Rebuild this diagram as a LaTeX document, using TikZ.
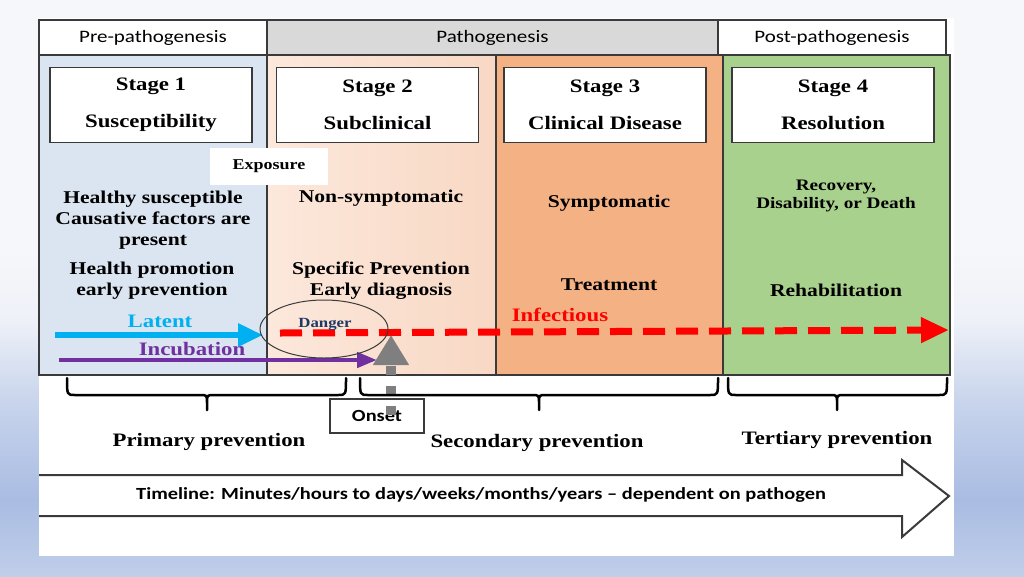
\documentclass[tikz,border=0pt]{standalone}
\usepackage{fontspec}
\setmainfont{Liberation Serif}[FakeStretch=1.2]
\newfontfamily\hdrfont{Carlito}[FakeStretch=1.2]
\usetikzlibrary{arrows.meta,shapes.geometric}
\definecolor{bgtop}{HTML}{F6F7FA}
\definecolor{bgC}{HTML}{EEF1F8}
\definecolor{bgD}{HTML}{C9D5EC}
\definecolor{bgB}{HTML}{A9BCE2}
\definecolor{bgA}{HTML}{C0CEE9}
\definecolor{frame}{HTML}{3A3A3A}
\definecolor{hgrey}{HTML}{D9D9D9}
\definecolor{col1}{HTML}{DBE5F1}
\definecolor{col2a}{HTML}{FCE8DC}
\definecolor{col2b}{HTML}{F8D8C4}
\definecolor{col3}{HTML}{F4B183}
\definecolor{col4}{HTML}{A9D18E}
\definecolor{latentc}{HTML}{00B0F0}
\definecolor{incc}{HTML}{7030A0}
\definecolor{navyc}{HTML}{1F3864}
\definecolor{redc}{HTML}{FF0000}
\definecolor{greyarr}{HTML}{7F7F7F}
\newcommand\curlybrace[3]{%
  \draw[bracestyle] (#1,378) .. controls (#1,395) .. (#1+8,395) -- (#2-7,395)
    .. controls (#2,395) .. (#2,403) -- (#2,410)
    (#2,403) .. controls (#2,395) .. (#2+7,395) -- (#3-8,395)
    .. controls (#3,395) .. (#3,378);}
\tikzset{
  hdr/.style={draw=frame, line width=1.2pt, inner sep=0pt, minimum height=35pt,
    font=\hdrfont\fontsize{17.5}{20}\selectfont},
  stagebox/.style={draw=frame, fill=white, line width=1.4pt, minimum width=202pt,
    minimum height=75pt, inner sep=0pt, align=center,
    font=\bfseries\fontsize{19}{37}\selectfont},
  body/.style={align=center, inner sep=0pt, font=\bfseries\fontsize{18}{21}\selectfont},
  lbl/.style={inner sep=0pt, font=\bfseries\fontsize{19}{22}\selectfont},
  prev/.style={inner sep=0pt, font=\bfseries\fontsize{19}{22}\selectfont},
  bracestyle/.style={draw=black, line width=2.5pt, line cap=round},
  colline/.style={draw=frame, line width=1.2pt},
}
\begin{document}
\begin{tikzpicture}[x=1pt,y=-1pt]
\useasboundingbox (0,0) rectangle (1024,576);
% slide background
\fill[bgtop] (0,0) rectangle (1024,250);
\shade[top color=bgtop, bottom color=bgC] (0,249.5) rectangle (1024,320);
\shade[top color=bgC, bottom color=bgD] (0,319.5) rectangle (1024,400);
\shade[top color=bgD, bottom color=bgB] (0,399.5) rectangle (1024,500);
\shade[top color=bgB, bottom color=bgA] (0,499.5) rectangle (1024,576);
% white panel
\fill[white] (39,18) rectangle (954,556);
% columns
\fill[col1] (39,55) rectangle (267,375);
\shade[left color=col2a, right color=col2b] (267,55) rectangle (496,375);
\fill[col3] (496,55) rectangle (723,375);
\fill[col4] (723,55) rectangle (950,375);
\draw[colline] (39,55) rectangle (950,375);
\draw[colline] (267,55) -- (267,375);
\draw[colline] (496,55) -- (496,375);
\draw[colline] (723,55) -- (723,375);
% header
\node[hdr, fill=white, minimum width=228pt] (pre) at (153,37.5) {Pre-pathogenesis};
\node[hdr, fill=hgrey, minimum width=451pt] (pat) at (492.5,37.5) {Pathogenesis};
\node[hdr, fill=white, minimum width=228pt] (post) at (832,37.5) {Post-pathogenesis};
% stage boxes
\node[stagebox] (s1) at (151,105) {Stage 1\\Susceptibility};
\node[stagebox] (s2) at (377.5,105) {Stage 2\\Subclinical};
\node[stagebox] (s3) at (605,105) {Stage 3\\Clinical Disease};
\node[stagebox] (s4) at (833,105) {Stage 4\\Resolution};
% exposure
\node[fill=white, minimum width=118pt, minimum height=37pt, inner sep=0pt,
  font=\bfseries\fontsize{15}{18}\selectfont] (expo) at (269,166.5) {Exposure};
% body texts
\node[body] (c1a) at (153,220) {Healthy susceptible\\Causative factors are\\present};
\node[body] (c1b) at (152,281) {Health promotion\\early prevention};
\node[body] (c2a) at (381,198) {Non-symptomatic};
\node[body] (c2b) at (381,281) {Specific Prevention\\Early diagnosis};
\node[body] (c3a) at (609,203) {Symptomatic};
\node[body] (c3b) at (609,285) {Treatment};
\node[body, font=\bfseries\fontsize{16}{18}\selectfont] (c4a) at (836,196) {Recovery,\\Disability, or Death};
\node[body] (c4b) at (836,290) {Rehabilitation};
% arrows
\coordinate (latS) at (55,335);
\coordinate (latE) at (263,335);
\coordinate (incS) at (59,360);
\coordinate (incE) at (377,360);
\coordinate (infS) at (280,333);
\coordinate (infE) at (949,330);
\draw[latentc, line width=6pt, -{Triangle[length=25pt,width=22pt]}] (latS) -- (latE);
\draw[incc, line width=4.5pt, -{Triangle[length=20pt,width=15pt]}] (incS) -- (incE);
\draw[redc, line width=7pt, dash pattern=on 22pt off 11pt, -{Triangle[length=28pt,width=24pt]}] (infS) -- (infE);
\node[ellipse, draw=frame, line width=1pt, minimum width=128pt, minimum height=58pt, inner sep=0pt] (ell) at (324,329) {};
\node[inner sep=0pt, text=navyc, font=\bfseries\fontsize{14}{16}\selectfont] (dng) at (325,324) {Danger};
\node[lbl, text=latentc] (latlbl) at (160,321) {Latent};
\node[lbl, text=incc] (inclbl) at (192,349) {Incubation};
\node[lbl, text=redc] (inflbl) at (560,315) {Infectious};
% onset
\node[draw=frame, fill=white, line width=1.2pt, minimum width=94pt, minimum height=34pt, inner sep=0pt,
  font=\hdrfont\bfseries\fontsize{17}{20}\selectfont] (onset) at (377,416) {Onset};
\coordinate (onS) at (391,415);
\coordinate (onE) at (391,335);
\draw[greyarr, line width=10pt, dash pattern=on 9pt off 11pt, -{Triangle[length=30pt,width=34pt]}] (onS) -- (onE);
% braces
\curlybrace{67}{207}{346}
\curlybrace{360}{539}{718}
\curlybrace{728}{837}{947}
\node[prev] (prim) at (209,442) {Primary prevention};
\node[prev] (sec) at (537,443) {Secondary prevention};
\node[prev] (ter) at (837,440) {Tertiary prevention};
% timeline
\draw[frame, line width=2pt, line join=miter] (39,475) -- (902,475) -- (902,460) -- (949,496) -- (902,537) -- (902,516) -- (39,516);
\node[inner sep=0pt, font=\hdrfont\bfseries\fontsize{17}{20}\selectfont] (tl) at (481,495)
  {Timeline: Minutes/hours to days/weeks/months/years – dependent on pathogen};
\end{tikzpicture}
\end{document}
